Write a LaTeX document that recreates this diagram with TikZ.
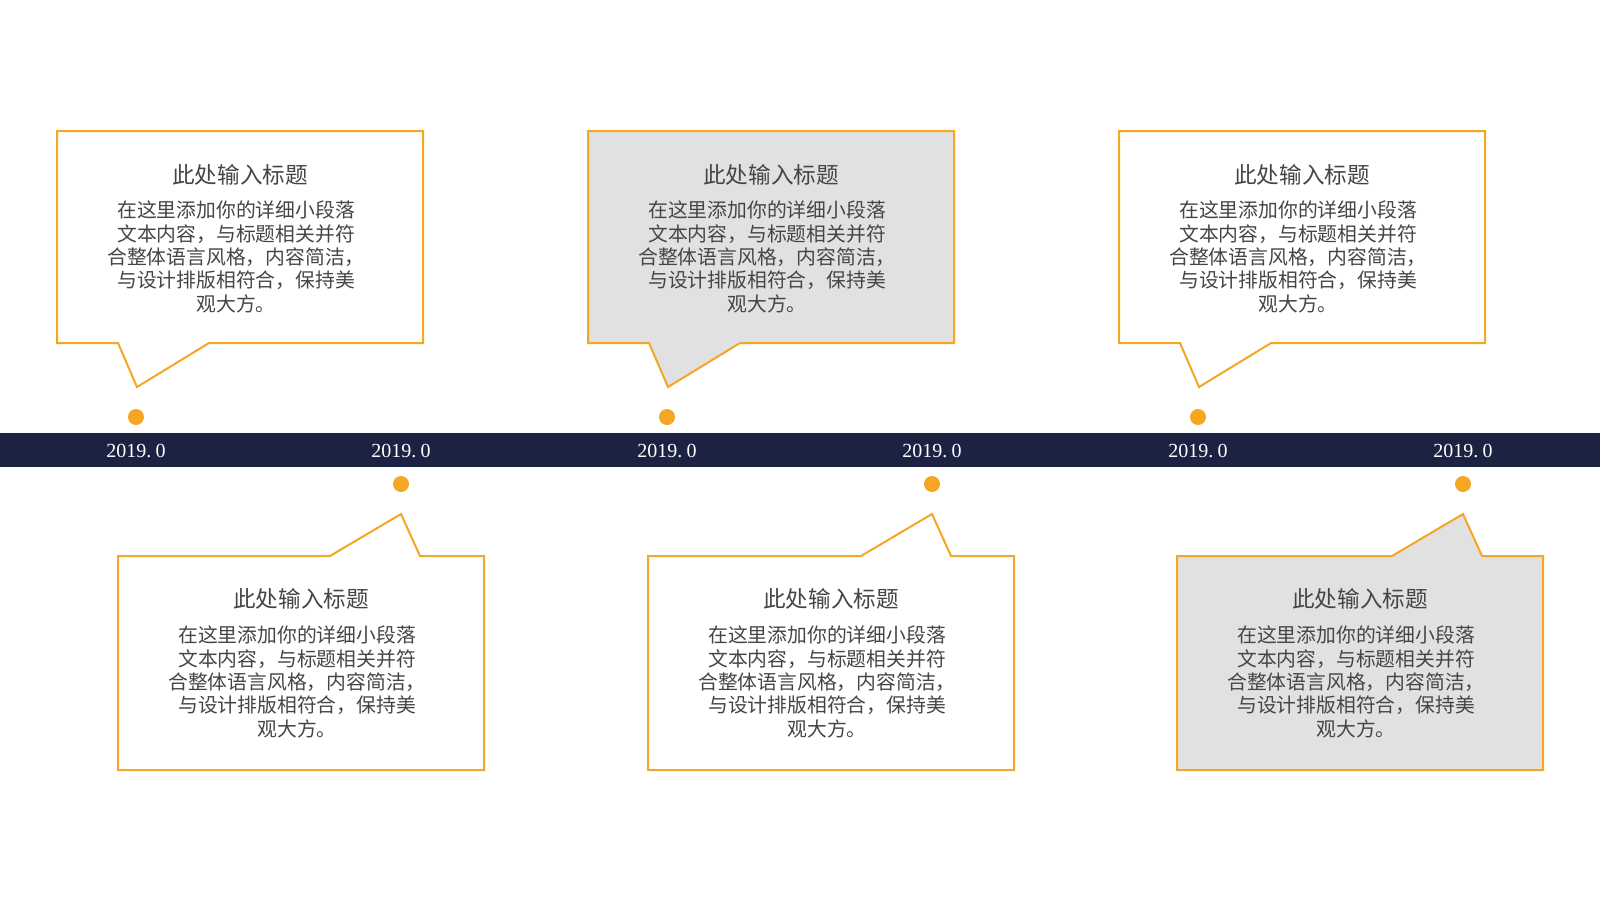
\documentclass[tikz,border=0pt]{standalone}
\usepackage{fontspec}
\setmainfont{Liberation Serif}
\newfontfamily\cjk{Noto Sans CJK SC}
\definecolor{navy}{HTML}{1B2242}
\definecolor{orng}{HTML}{F5A623}
\definecolor{txt}{HTML}{454545}
\definecolor{boxgray}{HTML}{E1E1E1}
\newcommand\BodyText{在这里添加你的详细小段落\\文本内容，与标题相关并符\\合整体语言风格，内容简洁，\\与设计排版相符合，保持美\\观大方。}
\begin{document}
\begin{tikzpicture}[x=0.5pt,y=-0.5pt,
  callout/.style={draw=orng,line width=1pt,line join=miter},
  dotmark/.style={circle,fill=orng,inner sep=0pt,minimum size=8pt},
  titletext/.style={text=txt,font=\cjk\fontsize{11.3}{13}\selectfont,inner sep=0pt},
  bodytext/.style={text=txt,font=\cjk\fontsize{9.9}{11.65}\selectfont,align=center,inner sep=0pt},
  datetext/.style={text=white,font=\fontsize{10}{12}\selectfont,inner sep=0pt}]
\useasboundingbox (0,0) rectangle (1600,900);
\fill[white] (0,0) rectangle (1600,900);
% timeline band
\fill[navy] (0,433) rectangle (1600,467);
% dates
\foreach \D [count=\i] in {136,401,667,932,1198,1463}{
  \node[datetext] (date\i) at (\D,451) {2019.\hspace{0.22em}0};
}
% top callouts
\foreach \D/\f [count=\i] in {136/white,667/boxgray,1198/white}{
  \draw[callout,fill=\f] (\D-79,131) -- (\D+287,131) -- (\D+287,343) -- (\D+73,343)
     -- (\D+1,387) -- (\D-18,343) -- (\D-79,343) -- cycle;
  \node[dotmark] (tdot\i) at (\D,417) {};
  \node[titletext] (ttitle\i) at (\D+104,175) {此处输入标题};
  \node[bodytext] (tbody\i) at (\D+100,257) {\BodyText};
}
% bottom callouts
\foreach \D/\L/\f [count=\i] in {401/118/white,932/648/white,1463/1177/boxgray}{
  \draw[callout,fill=\f] (\L,556) -- (\D-71,556) -- (\D,514) -- (\D+19,556)
     -- (\L+366,556) -- (\L+366,770) -- (\L,770) -- cycle;
  \node[dotmark] (bdot\i) at (\D,484) {};
  \node[titletext] (btitle\i) at (\L+183,599) {此处输入标题};
  \node[bodytext] (bbody\i) at (\L+179,682) {\BodyText};
}
\end{tikzpicture}
\end{document}
